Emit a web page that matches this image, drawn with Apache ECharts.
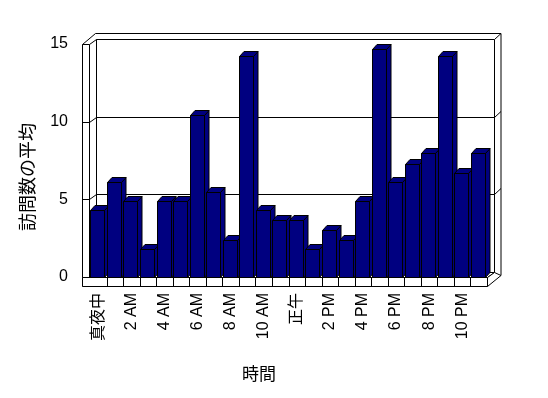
<!DOCTYPE html>
<html>
<head>
<meta charset="utf-8">
<script src="https://cdn.jsdelivr.net/npm/echarts@6.0.0/dist/echarts.min.js"></script>
<style>
  html, body { margin: 0; padding: 0; background: #fff; }
  #chart { width: 548px; height: 398px; }
</style>
</head>
<body>
<div id="chart"></div>
<script>
// 時間帯ごとの平均訪問数
const hours = [
  '真夜中', '1 AM', '2 AM', '3 AM', '4 AM', '5 AM', '6 AM', '7 AM', '8 AM', '9 AM', '10 AM', '11 AM',
  '正午', '1 PM', '2 PM', '3 PM', '4 PM', '5 PM', '6 PM', '7 PM', '8 PM', '9 PM', '10 PM', '11 PM'
];
const visits = [
  4.3, 6.1, 4.9, 1.8, 4.9, 4.9, 10.4, 5.5, 2.4, 14.2, 4.3, 3.7,
  3.7, 1.8, 3.0, 2.4, 4.9, 14.7, 6.1, 7.3, 8.0, 14.2, 6.7, 8.0
];
const yTicks = [0, 5, 10, 15];

const font = "'Liberation Sans', 'Noto Sans CJK JP', sans-serif";
const navy = '#000080';

// 奥行き（3D風）
const DX = 7, DY = -5;     // 前面 -> 奥の壁
const OX = 6.5, OY = -6;   // 壁の厚み
const FLOOR = 9;           // 床の厚み

const line = (x1, y1, x2, y2) => ({
  type: 'line',
  shape: { x1, y1, x2, y2 },
  style: { stroke: '#000', lineWidth: 1, fill: null }
});
const poly = (points, fill) => ({
  type: 'polygon',
  shape: { points },
  style: { fill, stroke: '#000', lineWidth: 1 }
});
const px = v => Math.round(v) + 0.5;

function renderFrame(params, api) {
  const cs = params.coordSys;
  const x0 = px(cs.x - 1), xR = px(cs.x + cs.width);
  const yT = px(cs.y), yB = px(cs.y + cs.height);
  const xo = x0 - 7;
  const bx0 = x0 + DX, bxR = xR + DX, byT = yT + DY, byB = yB + DY;
  const oxR = bxR + OX, oyT = byT + OY;
  const bw = api.size([1, 0])[0];
  const els = [];
  // 奥の壁と左の壁
  els.push(poly([[bx0, byT], [bxR, byT], [bxR, byB], [bx0, byB]], '#fff'));
  els.push(poly([[x0, yT], [bx0, byT], [bx0, byB], [x0, yB]], '#fff'));
  // 壁の外側
  els.push(line(xo, yT, xo, yB + FLOOR));
  els.push(line(xo, yT, x0, yT));
  els.push(line(xo, yT, bx0 - 1, oyT));
  els.push(line(bx0 - 1, oyT, oxR, oyT));
  els.push(line(bxR, byT, oxR, oyT));
  els.push(line(oxR, oyT, oxR, yB - 2));
  // 目盛線
  yTicks.forEach(v => {
    if (v === 0 || v === 15) return;
    const y = px(api.coord([0, v])[1]);
    els.push(line(xo, y, x0, y));
    els.push(line(x0, y, bx0, y + DY));
    els.push(line(bx0, y + DY, bxR, y + DY));
    els.push(line(bxR, y + DY, oxR, y + DY + OY));
  });
  // 床
  els.push(poly([[x0, yB], [bx0, byB], [bxR, byB], [xR, yB]], '#fff'));
  els.push(poly([[xR, yB], [bxR, byB], [oxR, yB - 2], [xR, yB + FLOOR]], '#fff'));
  els.push(poly([[xo, yB], [xR, yB], [xR, yB + FLOOR], [xo, yB + FLOOR]], '#fff'));
  for (let i = 1; i < hours.length; i++) {
    const x = px(cs.x + i * bw);
    els.push(line(x, yB, x, yB + FLOOR));
  }
  return { type: 'group', children: els };
}

function renderBar(params, api) {
  const top = api.coord([api.value(0), api.value(1)]);
  const base = api.coord([api.value(0), 0]);
  const bw = api.size([1, 0])[0];
  const x0 = px(top[0] - bw / 2 + 0.4);
  const x1 = x0 + 14;
  const yt = px(top[1]);
  const yb = px(base[1]);
  const dx = 4.5, dy = -5;
  return {
    type: 'group',
    children: [
      poly([[x1, yt], [x1 + dx, yt + dy], [x1 + dx, yb + dy], [x1, yb]], navy),
      poly([[x0, yt], [x1, yt], [x1 + dx, yt + dy], [x0 + dx, yt + dy]], navy),
      poly([[x0, yt], [x1, yt], [x1, yb], [x0, yb]], navy)
    ]
  };
}

const chart = echarts.init(document.getElementById('chart'), null, { renderer: 'canvas' });
chart.setOption({
  backgroundColor: '#fff',
  animation: false,
  grid: { left: 90, right: 61, top: 44, bottom: 121 },
  xAxis: {
    type: 'category',
    data: hours,
    boundaryGap: true,
    axisLine: { show: false },
    axisTick: { show: false },
    axisLabel: {
      interval: 1,
      rotate: 90,
      margin: 16,
      color: '#000',
      fontSize: 16,
      fontFamily: font
    },
    name: '時間',
    nameLocation: 'middle',
    nameGap: 90,
    nameTextStyle: { color: '#000', fontSize: 17, fontFamily: font, padding: [0, 59, 0, 0] }
  },
  yAxis: {
    type: 'value',
    min: 0,
    max: 15,
    interval: 5,
    axisLine: { show: false },
    axisTick: { show: false },
    splitLine: { show: false },
    axisLabel: { margin: 22, color: '#000', fontSize: 16, fontFamily: font },
    name: '訪問数の平均',
    nameLocation: 'middle',
    nameRotate: 90,
    nameGap: 52,
    nameTextStyle: { color: '#000', fontSize: 18, fontFamily: font, padding: [0, 33, 0, 0] }
  },
  series: [
    {
      type: 'custom',
      renderItem: renderFrame,
      data: [[0, 0]],
      silent: true,
      z: 1
    },
    {
      type: 'custom',
      renderItem: renderBar,
      data: visits.map((v, i) => [i, v]),
      encode: { x: 0, y: 1 },
      z: 2
    }
  ]
});
</script>
</body>
</html>
